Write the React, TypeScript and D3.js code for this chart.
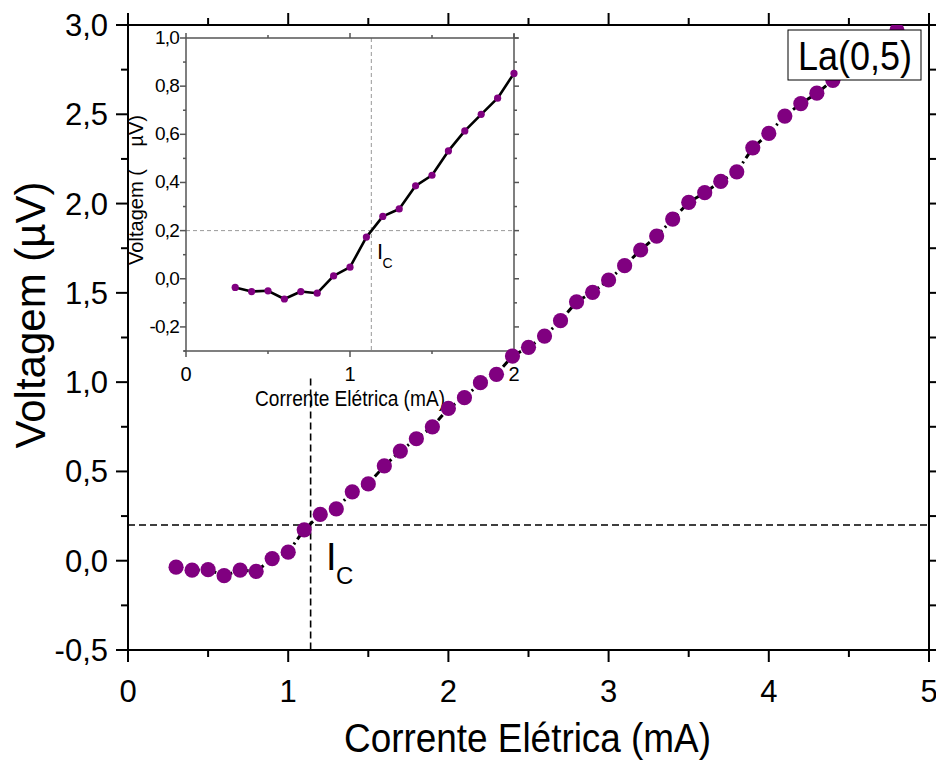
import React from "react";
import * as d3 from "d3";

const currents = [0.3, 0.4, 0.5, 0.6, 0.7, 0.8, 0.9, 1.0, 1.1, 1.2, 1.3, 1.4, 1.5, 1.6, 1.7, 1.8, 1.9, 2.0, 2.1, 2.2, 2.3, 2.4, 2.5, 2.6, 2.7, 2.8, 2.9, 3.0, 3.1, 3.2, 3.3, 3.4, 3.5, 3.6, 3.7, 3.8, 3.9, 4.0, 4.1, 4.2, 4.3, 4.4, 4.5, 4.6, 4.7, 4.8];
const voltages = [-0.036, -0.053, -0.05, -0.084, -0.053, -0.06, 0.012, 0.048, 0.173, 0.259, 0.29, 0.386, 0.43, 0.531, 0.614, 0.683, 0.75, 0.853, 0.913, 0.997, 1.044, 1.146, 1.195, 1.258, 1.344, 1.45, 1.503, 1.572, 1.652, 1.74, 1.818, 1.913, 2.007, 2.061, 2.124, 2.178, 2.312, 2.393, 2.49, 2.56, 2.618, 2.69, 2.76, 2.83, 2.9, 2.97];

const mainXTicks = [0, 1, 2, 3, 4, 5];
const mainXMinor = [0.5, 1.5, 2.5, 3.5, 4.5];
const mainYTicks = [-0.5, 0, 0.5, 1.0, 1.5, 2.0, 2.5, 3.0];
const mainYMinor = [-0.25, 0.25, 0.75, 1.25, 1.75, 2.25, 2.75];
const insetXTicks = [0, 1, 2];
const insetXMinor = [0.5, 1.5];
const insetYTicks = [-0.2, 0, 0.2, 0.4, 0.6, 0.8, 1.0];
const insetYMinor = [-0.3, -0.1, 0.1, 0.3, 0.5, 0.7, 0.9];
const insetMaxCurrent = 2.0;

const icCurrentMain = 1.14;
const icCurrentInset = 1.13;
const icVoltage = 0.2;
const icLineTopMain = 1.02;

const legendLabel = "La(0,5)";
const xTitle = "Corrente Elétrica (mA)";
const yTitle = "Voltagem (µV)";
const insetYTitle = "Voltagem (    µV)";

const FONT = "'Liberation Sans', Arial, Helvetica, sans-serif";
const fmt = (v: number, d: number) => v.toFixed(d).replace(".", ",");

export default function App() {
  const x = d3.scaleLinear().domain([0, 5]).range([128, 929]);
  const y = d3.scaleLinear().domain([-0.5, 3]).range([650, 25]);
  const ix = d3.scaleLinear().domain([0, 2]).range([186, 514]);
  const iy = d3.scaleLinear().domain([-0.3, 1.0]).range([351, 38]);

  const pts = currents.map((c, i) => ({ c, v: voltages[i] }));
  const insetPts = pts.filter((p) => p.c <= insetMaxCurrent + 1e-9);

  const mainLine = d3.line<{ c: number; v: number }>().x((d) => x(d.c)).y((d) => y(d.v));
  const insetLine = d3.line<{ c: number; v: number }>().x((d) => ix(d.c)).y((d) => iy(d.v));

  const [x0, x1] = x.range();
  const [yb, yt] = y.range();
  const [ix0, ix1] = ix.range();
  const [iyb, iyt] = iy.range();
  const axisColor = "#000";
  const insetAxis = "#555";

  return (
    <svg width={936} height={761} style={{ position: "absolute", left: 0, top: 0, background: "#fff" }} fontFamily={FONT}>
      <defs>
        <clipPath id="plotClip">
          <rect x={x0} y={yt} width={x1 - x0} height={yb - yt} />
        </clipPath>
      </defs>
      <rect x={0} y={0} width={936} height={761} fill="#fff" />

      {/* main reference dashed lines */}
      <line x1={x0} x2={x1} y1={y(icVoltage)} y2={y(icVoltage)} stroke="#000" strokeWidth={1.6} strokeDasharray="7 4" />
      <line x1={x(icCurrentMain)} x2={x(icCurrentMain)} y1={y(icLineTopMain)} y2={yb} stroke="#000" strokeWidth={1.6} strokeDasharray="7 4" />

      {/* main axes frame */}
      <g stroke={axisColor} strokeWidth={2}>
        <line x1={x0} x2={x1} y1={yb} y2={yb} />
        <line x1={x0} x2={x1} y1={yt} y2={yt} />
        <line x1={x0} x2={x0} y1={yt} y2={yb} />
        <line x1={x1} x2={x1} y1={yt} y2={yb} />
        {mainXTicks.map((t) => (
          <g key={"mx" + t}>
            <line x1={x(t)} x2={x(t)} y1={yb} y2={yb + 12} />
            <line x1={x(t)} x2={x(t)} y1={yt} y2={yt - 12} />
          </g>
        ))}
        {mainXMinor.map((t) => (
          <g key={"mxm" + t}>
            <line x1={x(t)} x2={x(t)} y1={yb} y2={yb + 7} />
            <line x1={x(t)} x2={x(t)} y1={yt} y2={yt - 7} />
          </g>
        ))}
        {mainYTicks.map((t) => (
          <g key={"my" + t}>
            <line x1={x0} x2={x0 - 12} y1={y(t)} y2={y(t)} />
            <line x1={x1} x2={x1 + 12} y1={y(t)} y2={y(t)} />
          </g>
        ))}
        {mainYMinor.map((t) => (
          <g key={"mym" + t}>
            <line x1={x0} x2={x0 - 7} y1={y(t)} y2={y(t)} />
            <line x1={x1} x2={x1 + 7} y1={y(t)} y2={y(t)} />
          </g>
        ))}
      </g>
      {mainXTicks.map((t) => (
        <text key={"mxl" + t} x={x(t)} y={yb + 52} fontSize={31} textAnchor="middle" fill="#000">
          {String(t)}
        </text>
      ))}
      {mainYTicks.map((t) => (
        <text key={"myl" + t} x={x0 - 20} y={y(t) + 11} fontSize={31} textAnchor="end" fill="#000">
          {fmt(t, 1)}
        </text>
      ))}
      <text x={(x0 + x1) / 2 - 1} y={752} fontSize={40} textAnchor="middle" textLength={367} lengthAdjust="spacingAndGlyphs" fill="#000">
        {xTitle}
      </text>
      <text transform={`translate(45,315) rotate(-90)`} fontSize={42} textAnchor="middle" fill="#000">
        {yTitle}
      </text>

      {/* IC label main */}
      <text x={326} y={569.5} fontSize={38} fill="#000">I</text>
      <text x={336} y={584} fontSize={24} fill="#000">C</text>

      {/* inset */}
      <g>
        <rect x={ix0} y={iyt} width={ix1 - ix0} height={iyb - iyt} fill="#fff" />
        <line x1={ix0} x2={ix1} y1={iy(icVoltage)} y2={iy(icVoltage)} stroke="#999" strokeWidth={1} strokeDasharray="4 3" />
        <line x1={ix(icCurrentInset)} x2={ix(icCurrentInset)} y1={iyt} y2={iyb} stroke="#999" strokeWidth={1} strokeDasharray="4 3" />
        <g stroke={insetAxis} strokeWidth={1.5}>
          <line x1={ix0} x2={ix1 + 4} y1={iyt} y2={iyt} />
          <line x1={ix0 - 2} x2={ix1} y1={iyb} y2={iyb} />
          <line x1={ix0} x2={ix0} y1={iyt} y2={iyb} />
          <line x1={ix1} x2={ix1} y1={iyt - 4} y2={iyb} />
          {insetXTicks.map((t) => (
            <g key={"ix" + t}>
              <line x1={ix(t)} x2={ix(t)} y1={iyb} y2={iyb + 6} />
              <line x1={ix(t)} x2={ix(t)} y1={iyt} y2={iyt - 5} />
            </g>
          ))}
          {insetXMinor.map((t) => (
            <g key={"ixm" + t}>
              <line x1={ix(t)} x2={ix(t)} y1={iyb} y2={iyb + 3} />
              <line x1={ix(t)} x2={ix(t)} y1={iyt} y2={iyt - 3} />
            </g>
          ))}
          {insetYTicks.map((t) => (
            <g key={"iy" + t}>
              <line x1={ix0} x2={ix0 - 6} y1={iy(t)} y2={iy(t)} />
              <line x1={ix1} x2={ix1 + 5} y1={iy(t)} y2={iy(t)} />
            </g>
          ))}
          {insetYMinor.map((t) => (
            <g key={"iym" + t}>
              <line x1={ix0} x2={ix0 - 3} y1={iy(t)} y2={iy(t)} />
              <line x1={ix1} x2={ix1 + 3} y1={iy(t)} y2={iy(t)} />
            </g>
          ))}
        </g>
        {insetXTicks.map((t) => (
          <text key={"ixl" + t} x={ix(t)} y={iyb + 30} fontSize={20} textAnchor="middle" fill="#000">
            {String(t)}
          </text>
        ))}
        {insetYTicks.map((t) => (
          <text key={"iyl" + t} x={ix0 - 7} y={iy(t) + 6} fontSize={19} textAnchor="end" fill="#000" letterSpacing={-0.8}>
            {fmt(t, 1)}
          </text>
        ))}
        <text x={350} y={406} fontSize={22} textAnchor="middle" textLength={190} lengthAdjust="spacingAndGlyphs" fill="#000">
          {xTitle}
        </text>
        <text transform={`translate(143,190) rotate(-90)`} fontSize={20} textAnchor="middle" textLength={150} lengthAdjust="spacingAndGlyphs" fill="#000" style={{ whiteSpace: "pre" }}>
          {insetYTitle}
        </text>
        <text x={377} y={258.5} fontSize={22} fill="#000">I</text>
        <text x={382.5} y={267.5} fontSize={14} fill="#000">C</text>
        <path d={insetLine(insetPts) || ""} fill="none" stroke="#000" strokeWidth={2.6} strokeLinejoin="round" />
        {insetPts.map((p, i) => (
          <circle key={"ip" + i} cx={ix(p.c)} cy={iy(p.v)} r={3.6} fill="#800080" />
        ))}
      </g>

      {/* main data */}
      <g clipPath="url(#plotClip)">
        <path d={mainLine(pts) || ""} fill="none" stroke="#000" strokeWidth={3} strokeDasharray="7 4 2 4" />
        {pts.map((p, i) => (
          <circle key={"mp" + i} cx={x(p.c)} cy={y(p.v)} r={7.6} fill="#800080" />
        ))}
      </g>

      {/* legend */}
      <rect x={788} y={30} width={133} height={50} fill="#fff" stroke="#000" strokeWidth={1} />
      <text x={855} y={70} fontSize={40} textAnchor="middle" textLength={114} lengthAdjust="spacingAndGlyphs" fill="#000">
        {legendLabel}
      </text>
    </svg>
  );
}
